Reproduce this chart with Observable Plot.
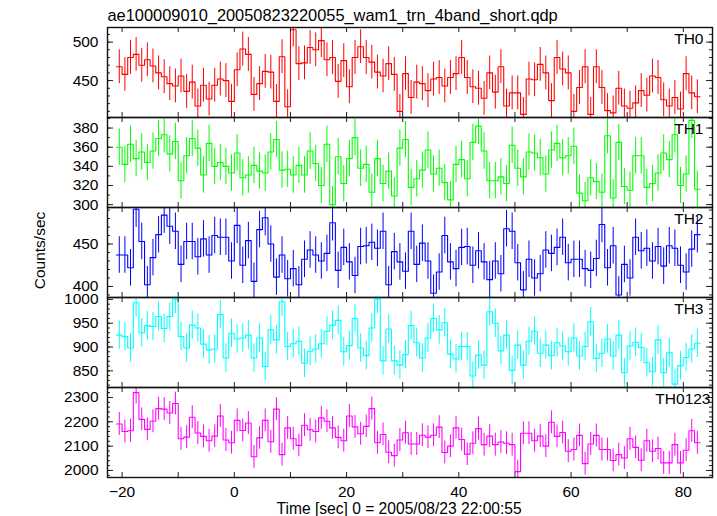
<!DOCTYPE html>
<html>
<head>
<meta charset="utf-8">
<script src="https://cdn.jsdelivr.net/npm/d3@7"></script>
<script src="https://cdn.jsdelivr.net/npm/@observablehq/plot@0.6"></script>
<style>
  body { margin: 0; background: #fff; }
  #chart { position: relative; width: 717px; height: 516px; background: #fff; }
  #chart svg { position: absolute; left: 0; }
</style>
</head>
<body>
<div id="chart"></div>
<script>
// ---------------- data ----------------
const titleText = "ae100009010_20050823220055_wam1_trn_4band_short.qdp";
const xLabelText = "Time [sec] 0 = 2005/08/23 22:00:55";
const yLabelText = "Counts/sec";
const panelNames = ["TH0", "TH1", "TH2", "TH3", "TH0123"];

// 1-s bins from -21 s to 83 s (bin centres)
const binWidth = 1;
const tBins = d3.range(-20.5, 83, binWidth);

const th0 = [468,458,480,484,470,477,469,460,455,446,443,456,436,448,417,444,426,444,452,450,
  423,464,491,484,432,446,462,461,423,481,416,516,472,473,493,490,502,477,480,449,
  476,442,480,494,480,474,461,456,472,458,410,459,428,448,446,437,452,454,443,454,
  459,480,454,442,440,427,460,435,468,417,434,434,406,452,451,471,460,424,480,465,
  460,410,441,468,406,468,441,411,408,440,417,414,421,437,431,456,454,425,417,428,
  413,459,434,429];
const th1 = [360,342,363,348,355,344,356,369,373,353,366,325,351,369,359,331,364,340,344,340,
  333,354,328,331,341,335,333,355,368,336,337,331,341,331,356,343,320,363,300,350,
  322,348,370,338,342,313,348,322,335,309,359,368,318,327,336,357,332,338,323,305,
  342,347,327,365,382,356,325,325,329,322,362,338,329,355,354,349,332,357,364,349,
  351,361,312,304,328,324,313,372,307,365,319,315,351,351,318,322,333,354,347,373,
  320,332,388,316];
const th2 = [437,437,422,491,453,402,434,461,484,471,465,426,453,453,435,456,437,460,458,458,
  430,472,425,454,406,467,481,450,411,437,409,421,402,432,443,437,430,439,475,419,
  446,429,413,447,448,452,445,465,402,441,429,418,465,426,451,430,392,417,460,429,
  421,446,447,425,442,429,408,430,415,468,465,428,396,432,410,415,443,439,446,458,
  428,432,432,421,419,433,473,422,448,390,426,410,458,442,445,430,447,424,448,445,
  425,417,444,461];
const th3 = [925,922,898,993,930,945,943,964,939,964,1000,922,898,946,940,906,894,896,968,877,
  929,917,919,925,877,919,859,936,915,995,901,907,912,866,891,896,907,933,946,956,
  890,903,960,898,882,940,1000,871,938,871,862,884,945,909,877,919,960,936,951,885,
  875,901,901,839,883,862,974,950,892,925,851,904,862,912,933,887,904,882,909,902,
  890,919,881,901,953,876,887,917,881,925,846,902,910,899,867,848,915,846,888,822,
  861,878,896,908];
const th0123 = [2191,2160,2163,2320,2210,2169,2202,2254,2252,2236,2275,2130,2137,2219,2154,2140,2122,2141,2224,2125,
  2114,2206,2164,2195,2056,2134,2206,2118,2252,2065,2175,2130,2103,2186,2167,2160,2216,2202,2175,2136,
  2122,2224,2179,2151,2181,2254,2114,2148,2075,2061,2125,2155,2109,2109,2145,2137,2145,2178,2074,2100,
  2175,2127,2067,2112,2172,2106,2141,2106,2117,2112,2106,1995,2153,2153,2122,2141,2100,2198,2140,2156,
  2079,2086,2144,2028,2109,2144,2086,2086,2041,2065,2051,2130,2095,2042,2122,2079,2090,2031,2031,2106,
  2031,2083,2163,2114];

// typical 1-sigma error bar half-length per panel
const errTH0 = 22, errTH1 = 19, errTH2 = 21.5, errTH3 = 30, errTH0123 = 47;

// tick labels
const xTickValues = [-20, 0, 20, 40, 60, 80];
const xMinorTicks = [-20, -10, 0, 10, 20, 30, 40, 50, 60, 70, 80];
const yTicksTH0 = [450, 500];
const yTicksTH1 = [300, 320, 340, 360, 380];
const yTicksTH2 = [400, 450];
const yTicksTH3 = [850, 900, 950, 1000];
const yTicksTH0123 = [2000, 2100, 2200, 2300];

// ---------------- layout ----------------
const W = 717, ML = 107, MR = 5, H = 90, TOP = 27;
const innerW = W - ML - MR;
const FONT = "Liberation Sans, Arial, Helvetica, sans-serif";

const panels = [
  {name: panelNames[0], values: th0, err: errTH0, color: "#ff0000", domain: [402, 519], ticks: yTicksTH0, minor: 10, nameDx: -9},
  {name: panelNames[1], values: th1, err: errTH1, color: "#00ff00", domain: [297, 391], ticks: yTicksTH1, minor: 10, nameDx: -9},
  {name: panelNames[2], values: th2, err: errTH2, color: "#0000ff", domain: [387, 493], ticks: yTicksTH2, minor: 10, nameDx: -9},
  {name: panelNames[3], values: th3, err: errTH3, color: "#00ffff", domain: [815, 1004], ticks: yTicksTH3, minor: 10, nameDx: -9},
  {name: panelNames[4], values: th0123, err: errTH0123, color: "#ff00ff", domain: [1971, 2341], ticks: yTicksTH0123, minor: 20, nameDx: -2}
];

const chart = document.getElementById("chart");
const fmt = d3.format("d");

panels.forEach((p, k) => {
  const bins = tBins.map((t, i) => ({t, v: p.values[i]}));
  const steps = bins.flatMap(d => [{x: d.t - binWidth / 2, y: d.v}, {x: d.t + binWidth / 2, y: d.v}]);
  const [y0, y1] = p.domain;
  const minor = d3.range(Math.ceil(y0 / p.minor) * p.minor, y1, p.minor);
  const marks = [
    Plot.ruleX(bins, {x: "t", y1: d => d.v - p.err, y2: d => d.v + p.err, stroke: p.color, strokeWidth: 1, clip: true}),
    Plot.line(steps, {x: "x", y: "y", stroke: p.color, strokeWidth: 1.1, clip: true}),
    // inward ticks
    Plot.tickY(minor, {y: d => d, insetRight: innerW - 3, stroke: "#222"}),
    Plot.tickY(minor, {y: d => d, insetLeft: innerW - 3, stroke: "#222"}),
    Plot.tickY(p.ticks, {y: d => d, insetRight: innerW - 6, stroke: "#222"}),
    Plot.tickY(p.ticks, {y: d => d, insetLeft: innerW - 6, stroke: "#222"}),
    Plot.tickX(xMinorTicks, {x: d => d, insetBottom: H - 5, stroke: "#222"}),
    Plot.tickX(xMinorTicks, {x: d => d, insetTop: H - 5, stroke: "#222"}),
    // y tick labels
    Plot.text(p.ticks, {y: d => d, text: d => fmt(d), frameAnchor: "left", textAnchor: "end", dx: -9, fontSize: 15.5, fill: "#000"}),
    // panel name
    Plot.text([p.name], {text: d => d, frameAnchor: "top-right", textAnchor: "end", lineAnchor: "bottom", dx: p.nameDx, dy: 16.5, fontSize: 15.5, fill: "#000"}),
    Plot.frame({stroke: "#111", strokeWidth: 1.4})
  ];
  if (k === 0) {
    marks.push(Plot.text([titleText], {text: d => d, frameAnchor: "top-left", textAnchor: "start", lineAnchor: "bottom", dy: -7, fontSize: 16.4, fill: "#000"}));
  }
  if (k === 2) {
    marks.push(Plot.text([yLabelText], {text: d => d, frameAnchor: "left", textAnchor: "middle", rotate: -90, dx: -67, dy: -2, fontSize: 15.5, fill: "#000"}));
  }
  if (k === panels.length - 1) {
    marks.push(Plot.text(xTickValues, {x: d => d, text: d => fmt(d), frameAnchor: "bottom", lineAnchor: "bottom", dy: 19, fontSize: 15.5, fill: "#000"}));
    marks.push(Plot.text([xLabelText], {text: d => d, frameAnchor: "bottom-left", textAnchor: "start", lineAnchor: "bottom", dx: 169, dy: 36, fontSize: 15.6, fill: "#000"}));
  }
  const svg = Plot.plot({
    width: W, height: H,
    marginLeft: ML, marginRight: MR, marginTop: 0, marginBottom: 0,
    x: {domain: [-22.6, 85.2], axis: null},
    y: {domain: p.domain, axis: null},
    style: {background: "transparent", overflow: "visible", fontFamily: FONT, fontSize: "15px", color: "#000"},
    marks
  });
  svg.style.top = (TOP + k * H) + "px";
  chart.appendChild(svg);
});
</script>
</body>
</html>
